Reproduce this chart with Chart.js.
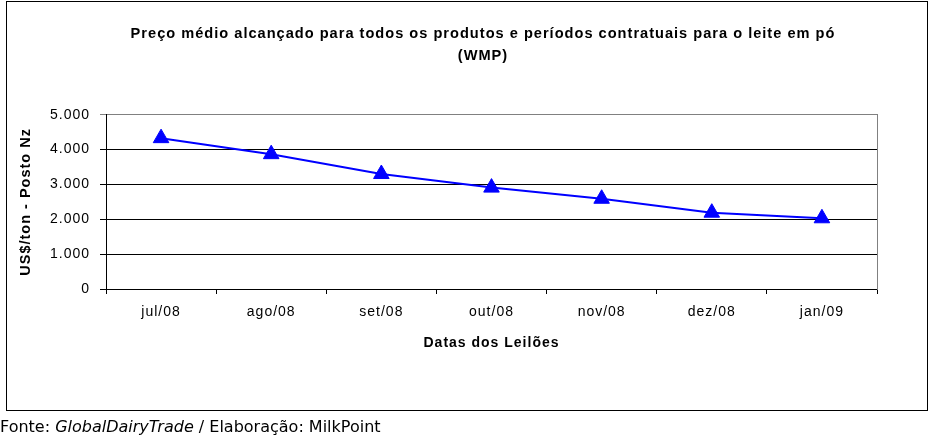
<!DOCTYPE html>
<html>
<head>
<meta charset="utf-8">
<script src="https://cdn.jsdelivr.net/npm/chart.js@4.4.1/dist/chart.umd.min.js"></script>
<style>
  html, body { margin: 0; padding: 0; background: #fff; }
  #wrap { position: relative; width: 929px; height: 436px; overflow: hidden; }
  #frame { position: absolute; left: 6px; top: 1px; width: 920px; height: 408px; border: 1px solid #000; }
  #chart { position: absolute; left: 0; top: 0; }
  #fonte { position: absolute; left: 0; top: 417px; font: 16px "DejaVu Sans", sans-serif; color: #000; white-space: nowrap; }
</style>
</head>
<body>
<div id="wrap">
  <div id="frame"></div>
  <canvas id="chart" width="929" height="436"></canvas>
  <div id="fonte">Fonte: <i>GlobalDairyTrade</i> / Elaboração: MilkPoint</div>
</div>
<script>
var categories = ['jul/08', 'ago/08', 'set/08', 'out/08', 'nov/08', 'dez/08', 'jan/09'];
var wmpPrice = [4330, 3870, 3300, 2910, 2590, 2190, 2030];
var titleLines = ['Preço médio alcançado para todos os produtos e períodos contratuais para o leite em pó', '(WMP)'];
var yTitle = 'US$/ton - Posto Nz';
var xTitle = 'Datas dos Leilões';

function fmtThousands(v) {
  return String(v).replace(/\B(?=(\d{3})+(?!\d))/g, '.');
}

// old excel look: glyphs a bit spread out
var spacing = {
  id: 'spacing',
  beforeUpdate: function(chart) { chart.ctx.letterSpacing = '1px'; },
  beforeDraw: function(chart) { chart.ctx.letterSpacing = '1px'; }
};

var ctx = document.getElementById('chart').getContext('2d');
var chart = new Chart(ctx, {
  type: 'line',
  data: {
    labels: categories,
    datasets: [{
      label: 'WMP',
      data: wmpPrice,
      borderColor: '#0000ff',
      backgroundColor: '#0000ff',
      borderWidth: 2,
      pointStyle: 'triangle',
      pointRadius: 9,
      pointBorderWidth: 1,
      tension: 0
    }]
  },
  options: {
    responsive: false,
    animation: false,
    layout: { padding: { left: 37, right: 0, top: 0, bottom: 77 } },
    plugins: {
      legend: { display: false },
      tooltip: { enabled: false },
      title: {
        display: true,
        text: titleLines,
        color: '#000',
        font: { family: '"Liberation Sans", Arial, sans-serif', size: 14.6, weight: 'bold', lineHeight: 1.5 },
        padding: { top: 23, bottom: 48 }
      }
    },
    scales: {
      x: {
        offset: true,
        grid: { offset: true, drawOnChartArea: false, drawTicks: true, tickLength: 5, color: '#000' },
        border: { color: '#000', width: 1 },
        ticks: { color: '#000', padding: 10, maxRotation: 0, font: { family: '"Liberation Sans", Arial, sans-serif', size: 14 } },
        title: { display: true, text: xTitle, color: '#000', padding: { top: 4, bottom: 7 },
          font: { family: '"Liberation Sans", Arial, sans-serif', size: 14, weight: 'bold' } },
        afterFit: function(s) { s.height = 70; }
      },
      y: {
        min: 0, max: 5000,
        ticks: { stepSize: 1000, color: '#000', padding: 10,
          font: { family: '"Liberation Sans", Arial, sans-serif', size: 14 },
          callback: function(v) { return fmtThousands(v); } },
        grid: { tickLength: 6, color: function(c) { return c.tick && c.tick.value === 5000 ? '#808080' : '#000'; } },
        border: { color: '#000', width: 1 },
        title: { display: true, text: yTitle, color: '#000', padding: { top: -20, bottom: 0 },
          font: { family: '"Liberation Sans", Arial, sans-serif', size: 14.5, weight: 'bold' } },
        afterFit: function(s) { s.width = 69; }
      },
      yRight: {
        position: 'right',
        display: true,
        min: 0, max: 5000,
        ticks: { display: false },
        grid: { drawOnChartArea: false, drawTicks: false },
        border: { color: '#808080', width: 1 },
        afterFit: function(s) { s.width = 52; }
      }
    }
  },
  plugins: [spacing]
});
</script>
</body>
</html>
